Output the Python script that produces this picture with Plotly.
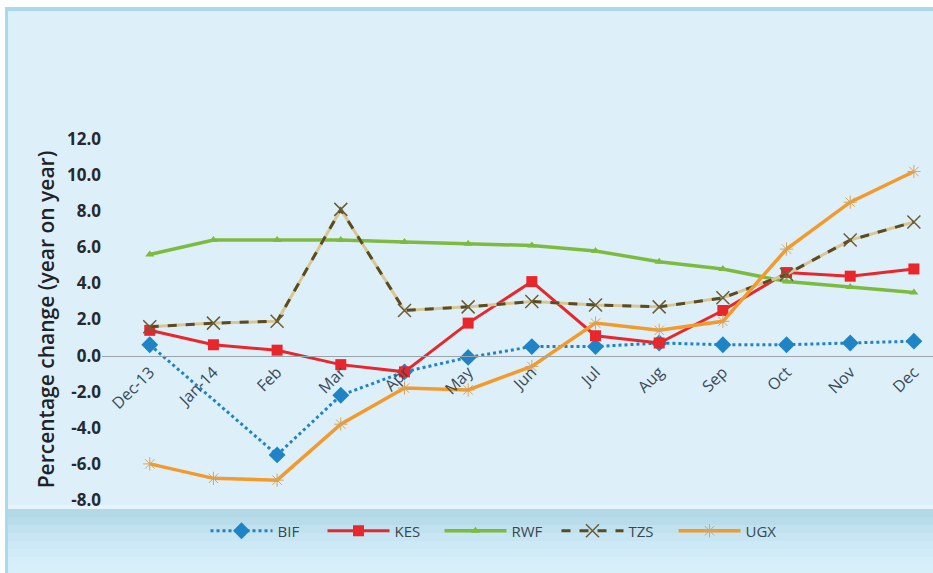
import plotly.graph_objects as go

# Month-end categories
months = ["Dec-13", "Jan-14", "Feb", "Mar", "Apr", "May", "Jun",
          "Jul", "Aug", "Sep", "Oct", "Nov", "Dec"]

# Year-on-year percentage change by currency (None = no observation)
bif = [0.6, None, -5.5, -2.2, -0.9, -0.1, 0.5, 0.5, 0.7, 0.6, 0.6, 0.7, 0.8]
kes = [1.4, 0.6, 0.3, -0.5, -0.9, 1.8, 4.1, 1.1, 0.7, 2.5, 4.6, 4.4, 4.8]
rwf = [5.6, 6.4, 6.4, 6.4, 6.3, 6.2, 6.1, 5.8, 5.2, 4.8, 4.1, 3.8, 3.5]
tzs = [1.6, 1.8, 1.9, 8.1, 2.5, 2.7, 3.0, 2.8, 2.7, 3.2, 4.5, 6.4, 7.4]
ugx = [-6.0, -6.8, -6.9, -3.8, -1.8, -1.9, -0.6, 1.8, 1.4, 1.9, 5.9, 8.5, 10.2]

y_ticks = [-8, -6, -4, -2, 0, 2, 4, 6, 8, 10, 12]
y_labels = [f"{v:.1f}" for v in y_ticks]

W, H = 933, 573
L, R, T, B = 102, 0, 139, 73
plot_w = W - L - R
plot_h = H - T - B


def px_x(p):
    return (p - L) / plot_w


def px_y(p):
    return (H - B - p) / plot_h


fig = go.Figure()

fig.add_trace(go.Scatter(
    x=months, y=bif, name="BIF", mode="lines+markers", connectgaps=True,
    line=dict(color="#1f84c6", width=3, dash="dot"),
    marker=dict(symbol="diamond", size=13, color="#1f84c6"),
))
fig.add_trace(go.Scatter(
    x=months, y=kes, name="KES", mode="lines+markers",
    line=dict(color="#e8262b", width=3),
    marker=dict(symbol="square", size=11, color="#e8262b"),
))
fig.add_trace(go.Scatter(
    x=months, y=rwf, name="RWF", mode="lines+markers",
    line=dict(color="#7dbb3f", width=3.5),
    marker=dict(symbol="triangle-up", size=8, color="#7dbb3f"),
))
# pale underlay showing between the TZS dashes
fig.add_trace(go.Scatter(
    x=months, y=tzs, mode="lines", showlegend=False, hoverinfo="skip",
    line=dict(color="#d9c793", width=3),
))
fig.add_trace(go.Scatter(
    x=months, y=tzs, name="TZS", mode="lines+markers",
    line=dict(color="#5a4b22", width=3, dash="dash"),
    marker=dict(symbol="x-thin", size=13, color="#5a4b22",
                line=dict(color="#6b5c35", width=1.5)),
))
fig.add_trace(go.Scatter(
    x=months, y=ugx, name="UGX", mode="lines+markers",
    line=dict(color="#f39a2c", width=3.5),
    marker=dict(symbol="asterisk", size=11, color="#d9a35a",
                line=dict(color="#d9a35a", width=1)),
))

# page framing: white strip, light-blue border lines and the darker legend band
shapes = [
    dict(type="rect", xref="paper", yref="paper",
         x0=px_x(0), x1=px_x(W), y0=px_y(0), y1=px_y(7),
         fillcolor="#ffffff", line_width=0, layer="below"),
    dict(type="rect", xref="paper", yref="paper",
         x0=px_x(0), x1=px_x(5), y0=px_y(7), y1=px_y(H),
         fillcolor="#ffffff", line_width=0, layer="below"),
    dict(type="rect", xref="paper", yref="paper",
         x0=px_x(5), x1=px_x(W), y0=px_y(7), y1=px_y(11),
         fillcolor="#a9d9ec", line_width=0, layer="below"),
    dict(type="rect", xref="paper", yref="paper",
         x0=px_x(5), x1=px_x(8), y0=px_y(7), y1=px_y(H),
         fillcolor="#a9d9ec", line_width=0, layer="below"),
]
band = ["#b3d9e6", "#b9dcea", "#c0e1ee", "#c7e5f2", "#cde9f5",
        "#d2ecf7", "#d5eef9", "#d7eff9"]
top = 509
step = (H - top) / len(band)
for i, c in enumerate(band):
    shapes.append(dict(type="rect", xref="paper", yref="paper",
                       x0=px_x(8), x1=px_x(W),
                       y0=px_y(top + i * step), y1=px_y(top + (i + 1) * step + 0.5),
                       fillcolor=c, line_width=0, layer="below"))
shapes.append(dict(type="rect", xref="paper", yref="paper",
                   x0=px_x(8), x1=px_x(W), y0=px_y(505), y1=px_y(509),
                   fillcolor="#e6f5fc", line_width=0, layer="below"))

fig.update_layout(
    width=W, height=H,
    margin=dict(l=L, r=R, t=T, b=B),
    paper_bgcolor="#ddf0fa",
    plot_bgcolor="rgba(0,0,0,0)",
    shapes=shapes,
    font=dict(family="Open Sans", color="#2b2f33"),
    showlegend=True,
    legend=dict(
        orientation="h", x=px_x(498), xanchor="center", y=px_y(531), yanchor="middle",
        font=dict(size=15, color="#3a4650"), bgcolor="rgba(0,0,0,0)",
        itemwidth=62, entrywidth=40, traceorder="normal",
    ),
    xaxis=dict(
        type="category", range=[-0.75, 12.3],
        anchor="free", position=8 / 20,
        showgrid=False, showline=True, linecolor="#9aa5ab", linewidth=1,
        ticks="", tickangle=-45,
        tickfont=dict(size=16, color="#3b4a56"),
    ),
    yaxis=dict(
        range=[-8, 12], tickvals=y_ticks, ticktext=y_labels,
        showgrid=False, zeroline=False, showline=False, ticks="",
        tickfont=dict(size=17, color="#262a2e", family="Open Sans", weight="bold"),
        title=dict(text="Percentage change (year on year)", standoff=6,
                   font=dict(size=21, color="#1f2327", family="Open Sans",
                             weight=600)),
    ),
)

fig.write_html("out.html")
